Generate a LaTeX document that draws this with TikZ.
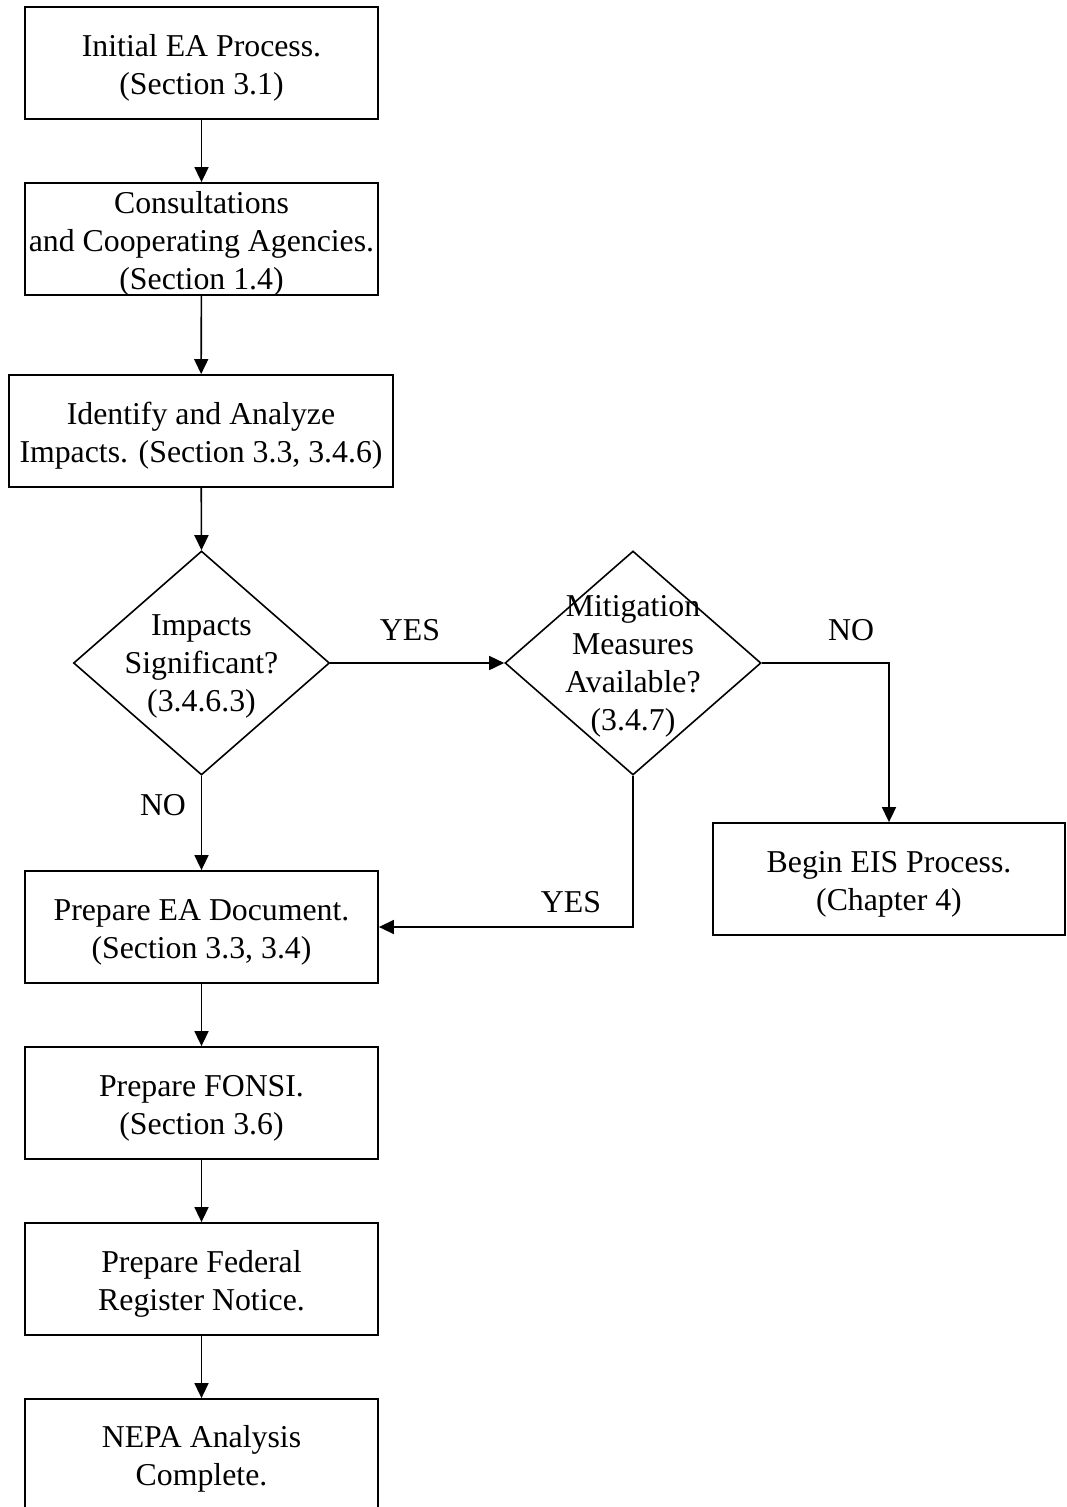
\documentclass[tikz,border=0pt]{standalone}
\usepackage{fontspec}
\setmainfont{Liberation Serif}
\usetikzlibrary{arrows.meta,shapes.geometric}
\begin{document}
\begin{tikzpicture}[x=1pt,y=-1pt,
  every node/.style={font=\fontsize{31.8}{38}\selectfont, align=center, inner sep=0pt},
  procbox/.style={draw, line width=1.8pt, minimum height=112pt},
  decis/.style={draw, diamond, line width=1.6pt, minimum width=256pt, minimum height=224pt},
  arr/.style={line width=1.6pt, -{Triangle[length=15pt,width=14pt]}},
  boxtext/.style={yshift=-5pt},
  lbl/.style={}]
\clip (0,0) rectangle (1066,1507);
\node[procbox, minimum width=353pt] (b1) at (201.5,63) {};
\node[boxtext] (b1t) at (b1.center) {Initial EA Process.\\(Section 3.1)};
\node[procbox, minimum width=353pt] (b2) at (201.5,239) {};
\node[boxtext] (b2t) at (b2.center) {Consultations\\and Cooperating Agencies.\\(Section 1.4)};
\node[procbox, minimum width=384pt] (b3) at (201,431) {};
\node[boxtext] (b3t) at (b3.center) {Identify and Analyze\\Impacts. (Section 3.3, 3.4.6)};
\node[decis] (d1) at (201.5,663) {};
\node[yshift=-3pt] (d1t) at (d1.center) {Impacts\\Significant?\\(3.4.6.3)};
\node[decis] (d2) at (633,663) {};
\node[yshift=-3pt] (d2t) at (d2.center) {Mitigation\\Measures\\Available?\\(3.4.7)};
\node[procbox, minimum width=352pt] (eis) at (889,879) {};
\node[boxtext] (eist) at (eis.center) {Begin EIS Process.\\(Chapter 4)};
\node[procbox, minimum width=353pt] (prep) at (201.5,927) {};
\node[boxtext] (prept) at (prep.center) {Prepare EA Document.\\(Section 3.3, 3.4)};
\node[procbox, minimum width=353pt] (fonsi) at (201.5,1103) {};
\node[boxtext] (fonsit) at (fonsi.center) {Prepare FONSI.\\(Section 3.6)};
\node[procbox, minimum width=353pt] (fed) at (201.5,1279) {};
\node[boxtext] (fedt) at (fed.center) {Prepare Federal\\Register Notice.};
\node[procbox, minimum width=353pt] (nepa) at (201.5,1455) {};
\node[boxtext] (nepat) at (201.5,1454) {NEPA Analysis\\Complete.};
\draw[arr] (b1) -- (b2);
\draw[arr] (b2) -- (b3);
\draw[arr] (b3) -- (d1.north);
\draw[arr] (d1.east) -- (d2.west);
\draw[arr] (d2.east) -| (eis.north);
\draw[arr] (d2.south) |- (prep.east);
\draw[arr] (d1.south) -- (prep.north);
\draw[arr] (prep) -- (fonsi);
\draw[arr] (fonsi) -- (fed);
\draw[arr] (fed) -- (nepa);
\node[lbl] (yes1) at (410,630) {YES};
\node[lbl] (no1) at (851,630) {NO};
\node[lbl] (no2) at (163,805) {NO};
\node[lbl] (yes2) at (571,902) {YES};
\end{tikzpicture}
\end{document}
